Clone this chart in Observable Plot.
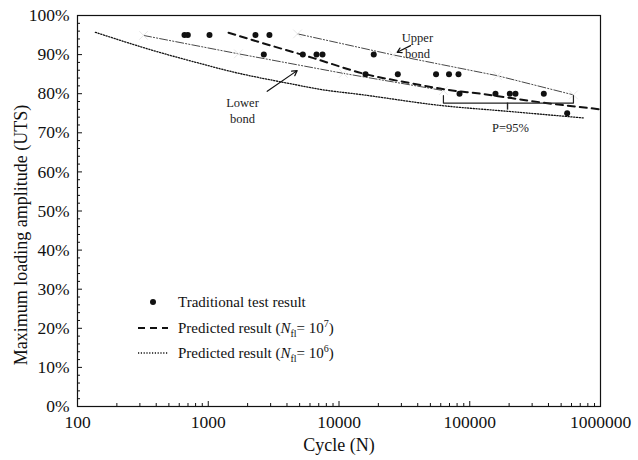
<!DOCTYPE html>
<html>
<head>
<meta charset="utf-8">
<script src="https://cdn.jsdelivr.net/npm/d3@7"></script>
<script src="https://cdn.jsdelivr.net/npm/@observablehq/plot@0.6"></script>
<style>
  body { margin: 0; background: #fff; }
  #chart { position: relative; width: 638px; height: 460px; font-family: "Liberation Serif", "Times New Roman", serif; }
  .legend-row { position: absolute; left: 130px; height: 20px; display: flex; align-items: center; font-size: 15px; color: #111; white-space: nowrap; }
  .legend-row svg { width: 44px; height: 20px; flex: none; }
  .legend-row span { margin-left: 4px; }
  .legend-row sub, .legend-row sup { font-size: 10px; line-height: 0; }
</style>
</head>
<body>
<div id="chart"></div>
<script>
// Traditional fatigue tests: cycles to failure and maximum loading amplitude (% UTS)
const testCycles = [658, 698, 1022, 2296, 2937,
                    2660, 5287, 6732, 7477, 18440,
                    15960, 28170, 55230, 69400, 82030,
                    83500, 157300, 202500, 223700, 368500,
                    556000];
const testAmplitude = [95, 95, 95, 95, 95,
                       90, 90, 90, 90, 90,
                       85, 85, 85, 85, 85,
                       80, 80, 80, 80, 80,
                       75];

// Predicted S-N curve, N_fl = 10^7
const pred7Cycles = [1429, 2512, 6380, 15960, 35200, 67600, 120800, 347500, 1000000];
const pred7Amplitude = [95.6, 93.1, 89.1, 85.0, 82.7, 81.0, 80.0, 77.8, 76.0];

// Predicted S-N curve, N_fl = 10^6
const pred6Cycles = [137, 431, 873, 1403, 4487, 7211, 14590, 59700, 194500, 741000];
const pred6Amplitude = [95.7, 90.5, 87.7, 85.9, 82.4, 81.1, 79.8, 77.0, 75.5, 73.8];

// 95% scatter band around the prediction
const lowerBondCycles = [320, 1700, 10800, 62900];
const lowerBondAmplitude = [94.9, 90.2, 85.2, 80.8];
const upperBondCycles = [4820, 26100, 163000, 621000];
const upperBondAmplitude = [95.3, 89.9, 84.6, 79.7];

// Brace marking the band width at 80% UTS
const braceCycles = [62900, 62900, 621000, 621000];
const braceAmplitude = [79.5, 77.6, 77.6, 79.5];
const braceMid = {cycles: 194500, top: 77.6, bottom: 75.8};

// Axis ticks
const xMajor = [100, 1000, 10000, 100000, 1000000];
const xMinor = d3.range(2, 6).flatMap(e => d3.range(2, 10).map(m => m * 10 ** e));
const yMajor = d3.range(0, 101, 10);
const yMinor = d3.range(0, 101, 2).filter(v => v % 10 !== 0);

// Annotations (one entry per text line)
const notes = [
  {cycles: 39800, amp: 94.2, text: "Upper", anchor: "start"},
  {cycles: 39800, amp: 90.1, text: "bond", anchor: "start"},
  {cycles: 1828, amp: 77.5, text: "Lower", anchor: "start"},
  {cycles: 1828, amp: 73.6, text: "bond", anchor: "start"},
  {cycles: 205000, amp: 71.1, text: "P=95%", anchor: "middle"}
];
const pointers = [
  {x1: 35250, y1: 92.3, x2: 27860, y2: 90.6},
  {x1: 2825, y1: 80.6, x2: 4786, y2: 85.9}
];

const zip = (xs, ys) => xs.map((c, i) => ({cycles: c, amp: ys[i]}));
const tests = zip(testCycles, testAmplitude);
const pred7 = zip(pred7Cycles, pred7Amplitude);
const pred6 = zip(pred6Cycles, pred6Amplitude);
const lowerBond = zip(lowerBondCycles, lowerBondAmplitude);
const upperBond = zip(upperBondCycles, upperBondAmplitude);
const brace = zip(braceCycles, braceAmplitude);

const W = 638, H = 460, mL = 77, mR = 38, mT = 15, mB = 54;
const plotW = W - mL - mR, plotH = H - mT - mB;
const ink = "#111";

const chart = Plot.plot({
  width: W, height: H,
  marginLeft: mL, marginRight: mR, marginTop: mT, marginBottom: mB,
  style: {fontFamily: '"Liberation Serif", "Times New Roman", serif', fontSize: "17.5px", color: ink, background: "#fff"},
  x: {type: "log", domain: [100, 1000000], label: null},
  y: {domain: [0, 100], label: null},
  marks: [
    // inward tick marks
    Plot.ruleX(xMinor, {insetTop: plotH - 3, stroke: ink}),
    Plot.ruleX(xMajor, {insetTop: plotH - 5, stroke: ink}),
    Plot.ruleY(yMinor, {insetRight: plotW - 3, stroke: ink}),
    Plot.ruleY(yMajor, {insetRight: plotW - 5, stroke: ink}),
    Plot.axisX({ticks: xMajor, tickSize: 0, tickPadding: 9, tickFormat: d => String(d), label: null, fontSize: 17.5}),
    Plot.axisY({ticks: yMajor, tickSize: 0, tickPadding: 8, tickFormat: d => d + "%", label: null, fontSize: 17.5}),
    Plot.text(["Cycle (N)"], {frameAnchor: "bottom", lineAnchor: "middle", dy: 39, fontSize: 18, fill: ink}),
    Plot.text(["Maximum loading amplitude (UTS)"], {frameAnchor: "left", textAnchor: "middle", lineAnchor: "middle", rotate: -90, dx: -56, dy: 24, fontSize: 18, fill: ink}),

    // scatter band
    Plot.line(lowerBond, {x: "cycles", y: "amp", stroke: "#333", strokeWidth: 0.9, strokeDasharray: "8,2,1.2,2,1.2,2"}),
    Plot.line(upperBond, {x: "cycles", y: "amp", stroke: "#333", strokeWidth: 0.9, strokeDasharray: "8,2,1.2,2,1.2,2"}),
    Plot.dot(lowerBond.concat(upperBond), {x: "cycles", y: "amp", symbol: "times", r: 4, stroke: "#e8e8e8", strokeWidth: 1}),

    // predictions
    Plot.line(pred6, {x: "cycles", y: "amp", stroke: ink, strokeWidth: 1.3, strokeDasharray: "1.2,1.6", curve: "monotone-x"}),
    Plot.line(pred7, {x: "cycles", y: "amp", stroke: ink, strokeWidth: 2, strokeDasharray: "7,5", curve: "monotone-x"}),

    // test results
    Plot.dot(tests, {x: "cycles", y: "amp", r: 3, fill: ink, stroke: "none"}),

    // brace and annotations
    Plot.line(brace, {x: "cycles", y: "amp", stroke: "#222", strokeWidth: 1.2}),
    Plot.ruleX([braceMid], {x: "cycles", y1: "top", y2: "bottom", stroke: "#222", strokeWidth: 1.4}),
    Plot.arrow(pointers, {x1: "x1", y1: "y1", x2: "x2", y2: "y2", stroke: ink, strokeWidth: 1.2, headLength: 7}),
    Plot.text(notes, {x: "cycles", y: "amp", text: "text", textAnchor: "anchor", fontSize: 12.5, fill: "#222"}),

    Plot.frame({stroke: ink, strokeWidth: 1.2})
  ]
});

const host = document.getElementById("chart");
host.appendChild(chart);

// legend
const legendRows = [
  {top: 292, sample: '<circle cx="23" cy="10" r="3" fill="#111"/>', html: "Traditional test result"},
  {top: 318, sample: '<line x1="8" x2="38" y1="10" y2="10" stroke="#111" stroke-width="2" stroke-dasharray="7,5"/>',
   html: 'Predicted result (<i>N</i><sub>fl</sub>= 10<sup>7</sup>)'},
  {top: 343, sample: '<line x1="8" x2="38" y1="10" y2="10" stroke="#111" stroke-width="1.3" stroke-dasharray="1.2,1.6"/>',
   html: 'Predicted result (<i>N</i><sub>fl</sub>= 10<sup>6</sup>)'}
];
for (const row of legendRows) {
  const div = document.createElement("div");
  div.className = "legend-row";
  div.style.top = row.top + "px";
  div.innerHTML = `<svg viewBox="0 0 44 20">${row.sample}</svg><span>${row.html}</span>`;
  host.appendChild(div);
}
</script>
</body>
</html>
